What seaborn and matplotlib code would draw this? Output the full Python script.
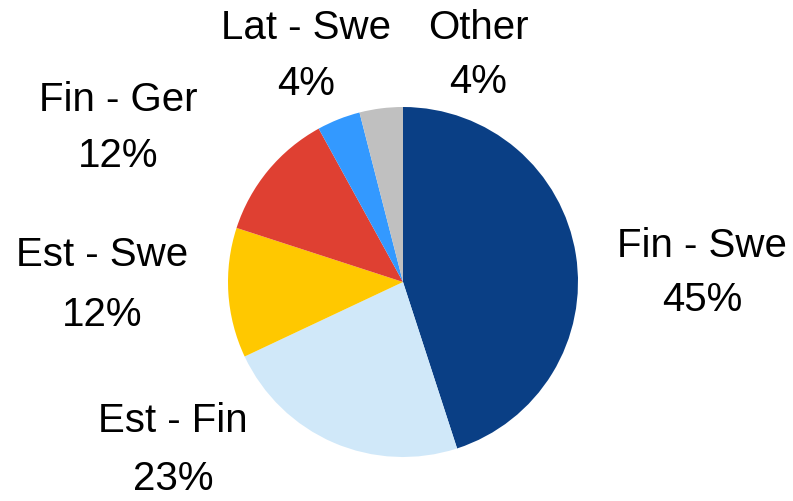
import matplotlib
matplotlib.use("Agg")
import matplotlib.pyplot as plt
import seaborn as sns

routes = ["Fin - Swe", "Est - Fin", "Est - Swe", "Fin - Ger", "Lat - Swe", "Other"]
shares = [45, 23, 12, 12, 4, 4]
colors = ["#0A3F85", "#D0E8F9", "#FFC800", "#DF4032", "#3399FF", "#C0C0C0"]

# label anchor points (pixel layout, y from top) and line gaps
label_pos = [(702, 273), (173, 450), (102, 285), (118, 128), (306, 56), (478, 55)]
label_gap = [1.55, 1.65, 1.75, 1.6, 1.6, 1.55]


def main():
    sns.set_theme(style="white")
    plt.rcParams["font.family"] = ["Liberation Sans", "DejaVu Sans"]

    fig = plt.figure(figsize=(7.93, 5.01), dpi=100)
    ax = fig.add_axes([0, 0, 1, 1])

    ax.pie(shares, colors=colors, startangle=90, counterclock=False,
           radius=175, center=(403, 501 - 282),
           wedgeprops={"linewidth": 0})

    for name, val, (x, y), gap in zip(routes, shares, label_pos, label_gap):
        ax.text(x, 501 - y, "{}\n{}%".format(name, val), ha="center", va="center",
                fontsize=29, linespacing=gap, color="black")

    ax.set_xlim(0, 793)
    ax.set_ylim(0, 501)
    ax.set_aspect("equal")
    ax.axis("off")

    fig.savefig("out.png", dpi=100, facecolor="white")


if __name__ == "__main__":
    main()
